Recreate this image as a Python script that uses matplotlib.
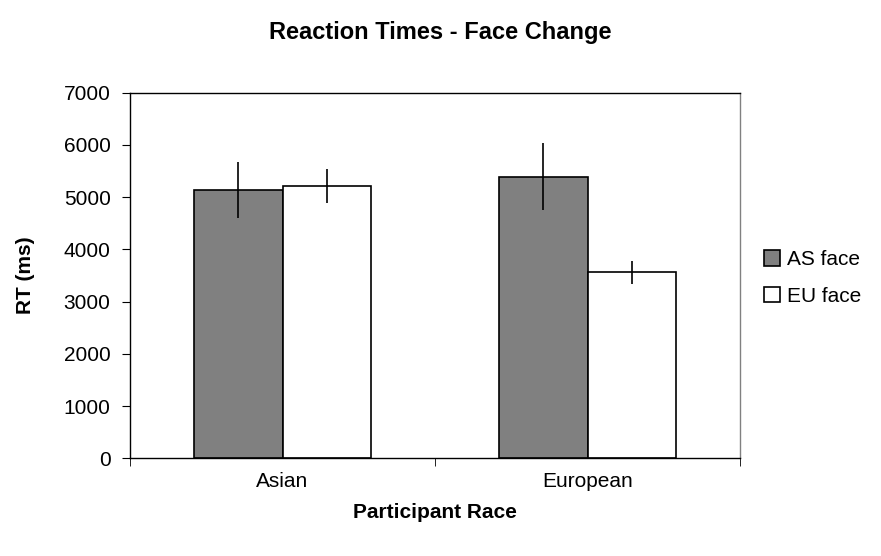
import numpy as np
import matplotlib
matplotlib.use('Agg')
import matplotlib.pyplot as plt

plt.rcParams['font.family'] = ['Liberation Sans', 'DejaVu Sans']

# Данные
categories = ['Asian', 'European']
series_names = ['AS face', 'EU face']
as_face = [5135, 5390]
eu_face = [5210, 3560]
as_err = [530, 640]
eu_err = [330, 220]
yticks = [0, 1000, 2000, 3000, 4000, 5000, 6000, 7000]

fs = 15

fig = plt.figure(figsize=(8.81, 5.56), dpi=100)
ax = fig.add_axes([0.1476, 0.1757, 0.6924, 0.6576])

x = np.arange(len(categories))
w = 0.289
err_kw = dict(ecolor='black', elinewidth=1.2, capsize=0)
ax.bar(x - w / 2, as_face, w, yerr=as_err, color='#808080', edgecolor='black',
       linewidth=1.2, label=series_names[0], error_kw=err_kw)
ax.bar(x + w / 2, eu_face, w, yerr=eu_err, color='white', edgecolor='black',
       linewidth=1.2, label=series_names[1], error_kw=err_kw)

ax.set_xlim(-0.5, len(categories) - 0.5)
ax.set_ylim(0, 7000)
ax.set_yticks(yticks)
ax.set_yticklabels([str(v) for v in yticks], fontsize=fs)

# подписи категорий без засечек, засечки между категориями
ax.set_xticks(x)
ax.set_xticklabels(categories, fontsize=fs)
ax.tick_params(axis='x', which='major', length=0, pad=10)
ax.set_xticks(np.arange(-0.5, len(categories)), minor=True)
ax.tick_params(axis='x', which='minor', length=6, direction='out')
ax.tick_params(axis='y', length=6, direction='out', pad=8)

for s in ax.spines.values():
    s.set_linewidth(1.0)
    s.set_color('black')
ax.spines['right'].set_color('#808080')

ax.set_ylabel('RT (ms)', fontsize=fs, fontweight='bold', va='center')
ax.yaxis.set_label_coords(-0.172, 0.5)
ax.set_xlabel('Participant Race', fontsize=fs, fontweight='bold', va='center')
ax.xaxis.set_label_coords(0.5, -0.149)
fig.text(0.5, 1 - 33 / 556, 'Reaction Times - Face Change', fontsize=17,
         fontweight='bold', ha='center', va='center')

ax.legend(loc='center left', bbox_to_anchor=(764 / 881, 1 - 278 / 556),
          bbox_transform=fig.transFigure, frameon=False, fontsize=fs,
          handlelength=0.75, handleheight=0.75, handletextpad=0.35,
          labelspacing=0.85, borderpad=0, borderaxespad=0)

plt.savefig('out.png', dpi=100)
plt.close()
